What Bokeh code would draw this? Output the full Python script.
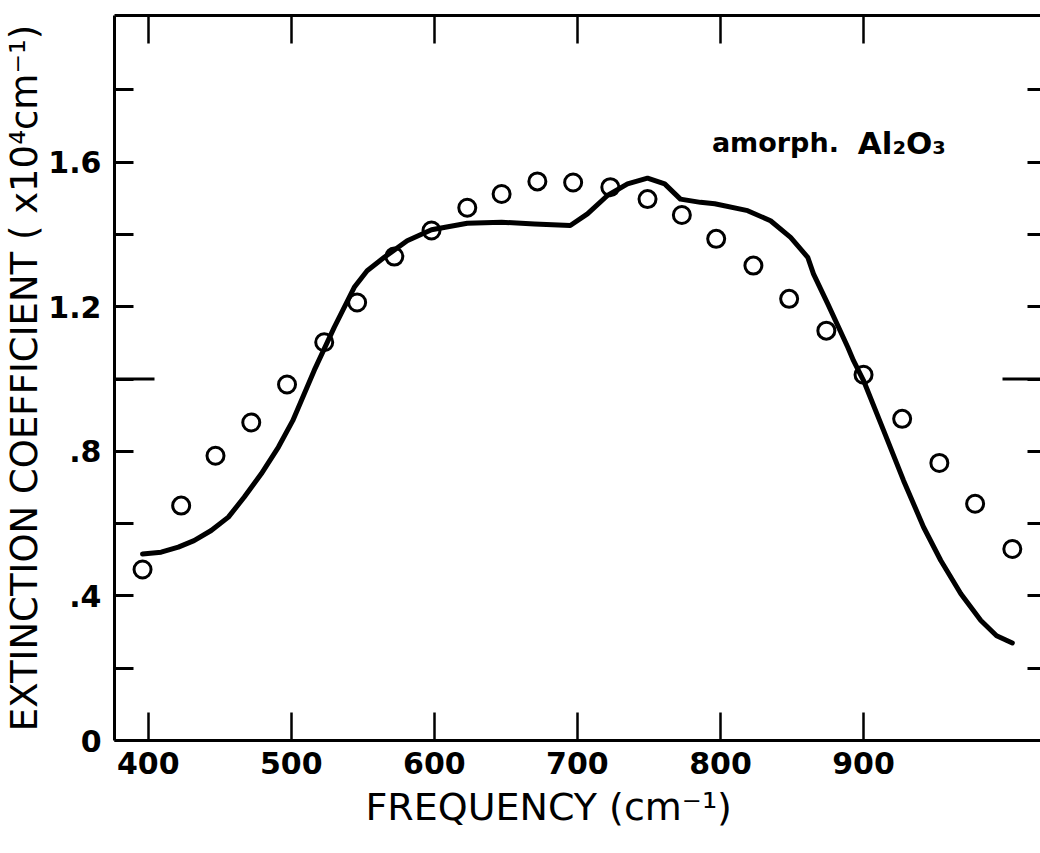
import math
from bokeh.plotting import figure
from bokeh.models import Range1d, LinearAxis, FixedTicker, CustomJSTickFormatter, Label, Title
from bokeh.embed import file_html
from bokeh.resources import INLINE

# ---- data ----
obs_freq = [396, 423, 447, 472, 497, 523, 546, 572, 598, 623, 647, 672, 697,
            723, 749, 773, 797, 823, 848, 874, 900, 927, 953, 978, 1004]
obs_ext = [0.473, 0.650, 0.788, 0.880, 0.985, 1.102, 1.212, 1.339, 1.411, 1.474,
           1.512, 1.547, 1.544, 1.531, 1.498, 1.454, 1.388, 1.314, 1.222, 1.134,
           1.012, 0.890, 0.768, 0.655, 0.530]

calc_freq = [396, 409, 421, 432, 444, 456, 467, 479, 491, 501, 516, 530, 544, 553,
             565, 581, 598, 623, 647, 670, 695, 707, 721, 735, 749, 761, 772, 786,
             796, 819, 835, 849, 861, 865, 875, 889, 893, 900, 914, 928, 942, 954,
             968, 982, 993, 1004]
calc_ext = [0.516, 0.521, 0.535, 0.553, 0.581, 0.618, 0.673, 0.738, 0.812, 0.885,
            1.024, 1.143, 1.254, 1.300, 1.337, 1.383, 1.413, 1.431, 1.434, 1.429,
            1.425, 1.457, 1.508, 1.540, 1.556, 1.540, 1.498, 1.489, 1.485, 1.466,
            1.438, 1.392, 1.337, 1.291, 1.208, 1.088, 1.051, 0.996, 0.858, 0.719,
            0.590, 0.498, 0.406, 0.332, 0.290, 0.270]

x_ticks = [400, 500, 600, 700, 800, 900]
y_major = [0, 0.4, 0.8, 1.2, 1.6]
y_minor = [0.2, 0.6, 1.0, 1.4, 1.8]
y_right = [0.2, 0.4, 0.6, 0.8, 1.0, 1.2, 1.4, 1.6, 1.8]
long_tick = [1.0]

x_lo, x_hi = 376.4, 1023.7
y_lo, y_hi = 0.0, 2.006

FONT = "DejaVu Sans"

p = figure(width=1040, height=853, x_range=Range1d(x_lo, x_hi), y_range=Range1d(y_lo, y_hi),
           output_backend="svg", toolbar_location=None,
           min_border_left=113, min_border_right=0, min_border_top=15, min_border_bottom=113)
p.outline_line_color = None
p.background_fill_color = "white"
p.border_fill_color = "white"
p.xgrid.visible = False
p.ygrid.visible = False

# bottom axis
xa = p.xaxis[0]
xa.ticker = FixedTicker(ticks=x_ticks)
xa.major_tick_in = 28
xa.major_tick_out = 0
xa.minor_tick_in = 0
xa.minor_tick_out = 0
xa.axis_line_width = 3
xa.major_tick_line_width = 2.5
xa.major_label_text_font = FONT
xa.major_label_text_font_style = "bold"
xa.major_label_text_font_size = "30px"
xa.major_label_text_color = "black"
xa.major_label_standoff = 11

# x-axis title, placed below the tick labels and slightly left of centre as in the source
p.add_layout(Title(text="FREQUENCY (cm\u207b\u00b9)", align="left", offset=251,
                   text_font=FONT, text_font_style="normal", text_font_size="38px",
                   text_color="black", standoff=12), "below")

# left axis
ya = p.yaxis[0]
ya.ticker = FixedTicker(ticks=y_major, minor_ticks=y_minor)
ya.formatter = CustomJSTickFormatter(
    code="return tick == 0 ? '0' : tick.toFixed(1).replace(/^0/, '');")
ya.major_tick_in = 19
ya.major_tick_out = 0
ya.minor_tick_in = 19
ya.minor_tick_out = 0
ya.axis_line_width = 3
ya.major_tick_line_width = 3
ya.minor_tick_line_width = 3
ya.major_label_text_font = FONT
ya.major_label_text_font_style = "bold"
ya.major_label_text_font_size = "30px"
ya.major_label_text_color = "black"
ya.major_label_standoff = 13
ya.axis_label = "EXTINCTION COEFFICIENT ( x10\u2074cm\u207b\u00b9)"
ya.axis_label_text_font = FONT
ya.axis_label_text_font_style = "normal"
ya.axis_label_text_font_size = "37px"
ya.axis_label_text_color = "black"
ya.axis_label_standoff = -1

# top axis: frame line with tick marks only (minor ticks carry no labels)
ta = LinearAxis(ticker=FixedTicker(ticks=[], minor_ticks=x_ticks),
                major_tick_in=0, major_tick_out=0,
                minor_tick_in=28, minor_tick_out=0, minor_tick_line_width=2.5,
                axis_line_width=3, major_label_standoff=0)
p.add_layout(ta, "above")

# right axis: tick marks only, its frame line lies off the picture
ra = LinearAxis(ticker=FixedTicker(ticks=[], minor_ticks=y_right),
                major_tick_in=0, major_tick_out=0,
                minor_tick_in=13, minor_tick_out=0, minor_tick_line_width=3,
                axis_line_color=None, major_label_standoff=0)
p.add_layout(ra, "right")

# longer ticks at 1.0 on both sides
p.ray(x=[x_lo], y=long_tick, length=40, length_units="screen", angle=0,
      line_width=3, line_color="black")
p.ray(x=[x_hi], y=long_tick, length=38, length_units="screen", angle=math.pi,
      line_width=3, line_color="black")

# calculated curve and measured points
p.line(calc_freq, calc_ext, line_width=5, line_color="black",
       line_join="round", line_cap="round")
p.scatter(obs_freq, obs_ext, marker="circle", size=17, fill_color=None,
          line_color="black", line_width=3)

# annotation inside the frame
p.add_layout(Label(x=794, y=1.654, text="amorph.", text_font=FONT,
                   text_font_style="bold", text_font_size="27px",
                   text_color="black", text_align="left", text_baseline="alphabetic"))
p.add_layout(Label(x=896, y=1.654, text="Al\u2082O\u2083", text_font=FONT,
                   text_font_style="bold", text_font_size="31px",
                   text_color="black", text_align="left", text_baseline="alphabetic"))

open("out.html", "w").write(file_html(p, INLINE))
